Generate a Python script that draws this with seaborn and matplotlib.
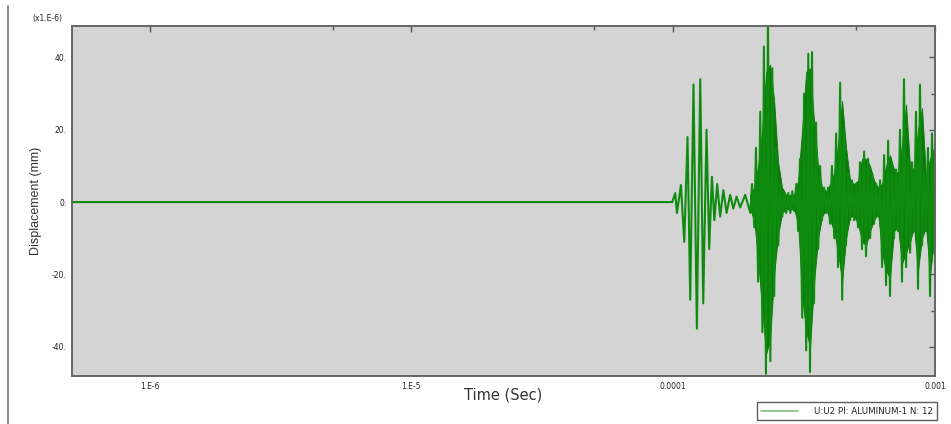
import matplotlib
matplotlib.use("Agg")
import matplotlib.pyplot as plt
import matplotlib.ticker as ticker
from matplotlib.lines import Line2D
import pandas as pd
import seaborn as sns

# Tid i mikrosekunder og forskydning i enheder af 1e-6 mm
tid_flad = [0.5, 99.1]
disp_flad = [0.0, 0.0]

tid_burst1 = [101.8, 103.3, 107.0, 110.2, 113.4, 116.1, 119.5, 123.1, 126.8, 130.2,
              134.0, 137.2, 140.5, 143.6, 147.2, 151.1, 155.4, 159.9, 165.0, 169.6,
              174.6, 180.2, 188.3]
disp_burst1 = [2.5, -3, 4.7, -11, 18, -27, 32.5, -35, 34, -28,
               20, -13, 7, -5, 5, -4, 3.3, -3, 2, -1.8,
               1.5, -1.5, 2]

tid_taet = [197, 200, 204, 207, 211, 215, 219, 222, 226, 230,
            235, 239, 243, 247, 252, 256, 261, 265, 270, 275,
            280, 285, 290, 295, 300, 305, 311, 316, 322, 328,
            333, 339, 345, 351, 358, 364, 370, 377, 384, 390,
            397, 404, 412, 419, 426, 434, 442, 449, 457, 466,
            474, 482, 491, 499, 508, 517, 526, 536, 545, 555,
            565, 575, 585, 595, 606, 617, 628, 639, 650, 662,
            673, 685, 697, 710, 722, 735, 748, 761, 775, 789,
            803, 817, 831, 846, 861, 876, 892, 908, 924, 940,
            957, 974, 991, 1000]
disp_taet = [-3, 5, -7, 15, -22, 25, -36, 43, -47.5, 52,
             -44, 37, -26, 15, -12, 5, -4, 3, -3, 2.5,
             -3, 3, -2.5, 5, -8, 12, -32, 30, -41, 41,
             -47, 41.5, -28, 22, -13, 10, -5, 4, -3, 4,
             -6, 10, -10, 19, -18, 33, -27, 20, -12, 8,
             -5, 6, -5, 5, -7, 11, -13, 14, -15, 12,
             -10, 8, -6, 5, -4, 6, -18, 13, -23, 17,
             -26, 11, -10, 9, -8, 20, -22, 34, -18, 12,
             -14, 11, -8, 25, -24, 32.5, -12, 8, -8, 15,
             -26, 19, -14, 10]

# den massive kerne i det tætte, hurtigt svingende område
tid_env = [196.7, 203.7, 211.0, 218.6, 226.4, 234.5, 242.9, 251.6, 260.6, 269.9,
           279.6, 289.6, 300.0, 310.7, 321.8, 333.3, 345.3, 357.6, 370.4, 383.6,
           397.4, 411.6, 426.3, 441.6, 457.4, 473.7, 490.7, 508.2, 526.4, 545.2,
           564.7, 584.9, 605.8, 627.5, 650.0, 673.2, 697.3, 722.2, 748.1, 774.9,
           802.6, 831.3, 861.0, 891.8, 923.7, 956.8, 991.0, 1000]
env_top = [2, 4, 10, 20, 36, 38, 28, 11, 4, 2,
           2, 2, 6, 20, 36, 37, 22, 10, 4, 3,
           5, 8, 16, 28, 15, 6, 5, 6, 12, 12,
           10, 6, 4, 5, 10, 13, 9, 8, 16, 27,
           10, 9, 20, 26, 7, 12, 15, 8]
env_bund = [-2, -5, -16, -30, -42, -38, -20, -9, -3, -2,
            -2, -2, -6, -26, -36, -40, -22, -10, -4, -2,
            -5, -8, -14, -22, -10, -4, -4, -6, -11, -12,
            -8, -5, -3, -14, -19, -21, -8, -7, -17, -14,
            -11, -7, -19, -10, -7, -20, -11, -8]

x_ticks = [1e-6, 1e-5, 1e-4, 1e-3]
x_ticklabels = ["1.E-6", "1.E-5", "0.0001", "0.001"]
x_minor = [5e-6, 5e-5, 5e-4]
y_ticks = [-40, -20, 0, 20, 40]
y_ticklabels = ["-40.", "-20.", "0.", "20.", "40."]
y_minor = [-30, -10, 10, 30]

legend_label = "U:U2 PI: ALUMINUM-1 N: 12"

GROEN = "#0f8c0f"
MOERK_GROEN = "#0a7a0a"
GRAA_BG = "#d4d4d4"
KANT = "#666666"

df = pd.DataFrame({
    "t": [v * 1e-6 for v in tid_flad + tid_burst1 + tid_taet],
    "u": disp_flad + disp_burst1 + disp_taet,
})
env = pd.DataFrame({
    "t": [v * 1e-6 for v in tid_env],
    "top": env_top,
    "bund": env_bund,
})

sns.set_style("white")
plt.rcParams["font.family"] = ["DejaVu Sans"]

fig = plt.figure(figsize=(9.51, 4.24), dpi=100)
ax = fig.add_axes([0.0757, 0.1132, 0.9075, 0.8255])
ax.set_facecolor(GRAA_BG)

ax.fill_between(env["t"], env["bund"], env["top"], color=MOERK_GROEN,
                linewidth=0.6, edgecolor=MOERK_GROEN)
sns.lineplot(data=df, x="t", y="u", ax=ax, sort=False, estimator=None,
             color=GROEN, linewidth=1.5)

ax.set_xscale("log")
ax.set_xlim(5.05e-7, 1e-3)
ax.set_ylim(-48.1, 48.7)

ax.xaxis.set_major_locator(ticker.FixedLocator(x_ticks))
ax.xaxis.set_major_formatter(ticker.FixedFormatter(x_ticklabels))
ax.xaxis.set_minor_locator(ticker.FixedLocator(x_minor))
ax.xaxis.set_minor_formatter(ticker.NullFormatter())
ax.yaxis.set_major_locator(ticker.FixedLocator(y_ticks))
ax.yaxis.set_major_formatter(ticker.FixedFormatter(y_ticklabels))
ax.yaxis.set_minor_locator(ticker.FixedLocator(y_minor))

ax.tick_params(which="both", direction="in", top=True, right=True,
               length=4, width=1, color="#555555", labelsize=5.5,
               labelcolor="#222222", pad=4)
ax.tick_params(which="minor", length=3)

for s in ax.spines.values():
    s.set_color(KANT)
    s.set_linewidth(1.4)
    s.set_visible(True)

ax.set_xlabel("Time (Sec)", fontsize=10.5, color="#333333", labelpad=-2)
ax.set_ylabel("Displacement (mm)", fontsize=9, color="#333333", labelpad=7,
              family=["Liberation Sans Narrow", "Liberation Sans", "DejaVu Sans"])
fig.text(0.034, 0.946, "(x1.E-6)", fontsize=5.5, color="#222222",
         ha="left", va="bottom")

# venstre kantlinje fra skærmbilledet
fig.add_artist(Line2D([0.0085, 0.0085], [0.0, 0.985], color="#777777",
                      linewidth=1.2))

handle = Line2D([], [], color="#7fc27f", linewidth=1.2)
leg = fig.legend([handle], [legend_label], loc="lower left",
                 bbox_to_anchor=(0.796, 0.009), fontsize=6.3, frameon=True,
                 fancybox=False, borderpad=0.5, handlelength=4.2,
                 handletextpad=1.8, borderaxespad=0)
leg.get_frame().set_edgecolor("#333333")
leg.get_frame().set_linewidth(1.0)

fig.savefig("out.png", dpi=100)
